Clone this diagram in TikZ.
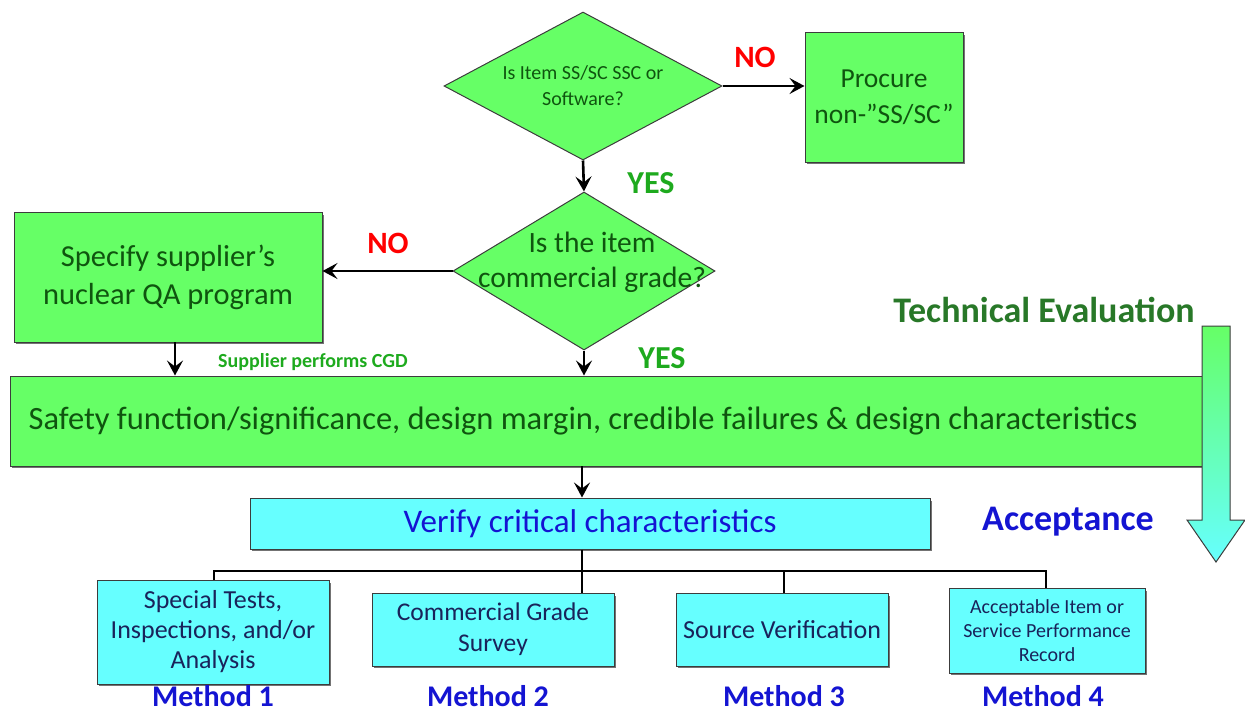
\documentclass[tikz,border=0pt]{standalone}
\usepackage{fontspec}
\setmainfont{Carlito}
\usetikzlibrary{shapes.geometric,arrows.meta}
\definecolor{gfill}{RGB}{102,255,102}
\definecolor{cfill}{RGB}{102,255,255}
\definecolor{gtext}{RGB}{15,85,15}
\definecolor{ylab}{RGB}{30,170,30}
\definecolor{tev}{RGB}{40,120,40}
\definecolor{btext}{RGB}{20,20,210}
\definecolor{ntext}{RGB}{25,35,90}
\definecolor{edge}{RGB}{60,60,60}
\tikzset{
  gbox/.style={draw=edge, line width=1pt, fill=gfill, text=gtext, align=center, inner sep=0pt},
  cbox/.style={draw=edge, line width=1pt, fill=cfill, text=ntext, align=center, inner sep=0pt},
  dmd/.style={diamond, draw=edge, line width=1pt, fill=gfill, text=gtext, align=center, inner sep=0pt, aspect=1.88},
  arr/.style={line width=2.6pt, -{Stealth[length=15pt,width=16pt,inset=6pt]}},
  tree/.style={line width=2.6pt},
  nolab/.style={text=red, font=\bfseries\fontsize{31}{33}\selectfont},
  yeslab/.style={text=ylab, font=\bfseries\fontsize{32}{34}\selectfont},
  meth/.style={text=btext, inner sep=1pt, font=\bfseries\fontsize{30}{32}\selectfont},
  shadow/.style={fill=black!55}
}
\begin{document}
\begin{tikzpicture}[x=1pt,y=-1pt]
\useasboundingbox (0,0) rectangle (1245,713);
% diamonds
\node[dmd, minimum width=278pt, minimum height=148pt, font=\fontsize{20}{26}\selectfont] (d1) at (583,86) {Is Item SS/SC SSC or\\Software?};
\node[dmd, minimum width=262pt, minimum height=158pt] (d2) at (584,271) {};
\node[text=gtext, align=center, font=\fontsize{29.5}{35}\selectfont] (d2t) at (592,262) {Is the item\\commercial grade?};
% procure box
\fill[shadow] (807,35) rectangle (965,164);
\node[gbox, minimum width=158pt, minimum height=130pt, font=\fontsize{27.5}{36}\selectfont] (proc) at (884,97) {Procure\\non-”SS/SC”};
% specify box
\fill[shadow] (16,215) rectangle (324,344);
\node[gbox, minimum width=308pt, minimum height=130pt, font=\fontsize{30.5}{38}\selectfont] (spec) at (168,277) {Specify supplier’s\\nuclear QA program};
% big bar
\fill[shadow] (12,379) rectangle (1204,468);
\node[gbox, minimum width=1192pt, minimum height=90pt, font=\fontsize{32.5}{34}\selectfont] (bar) at (606,421) {\hspace*{-46pt}Safety function/significance, design margin, credible failures \& design characteristics};
% block arrow
\shade[top color=gfill, bottom color=cfill, draw=edge, line width=1pt]
  (1202,326) -- (1230,326) -- (1230,520) -- (1245,520) -- (1216,562) -- (1187,520) -- (1202,520) -- cycle;
\node[text=tev, font=\bfseries\fontsize{36}{38}\selectfont] (tev) at (1044,310) {Technical Evaluation};
\node[text=btext, font=\bfseries\fontsize{36}{38}\selectfont] (acc) at (1068,522) {Acceptance};
% verify box
\fill[shadow] (252,501) rectangle (932,551);
\node[cbox, text=btext, minimum width=680pt, minimum height=51pt, font=\fontsize{33}{35}\selectfont] (ver) at (590,523.5) {Verify critical characteristics};
% method boxes
\fill[shadow] (99,583) rectangle (331,686);
\node[cbox, minimum width=232pt, minimum height=104pt, font=\fontsize{26}{30}\selectfont] (m1) at (213,632) {Special Tests,\\Inspections, and/or\\Analysis};
\fill[shadow] (374,596) rectangle (616,668);
\node[cbox, minimum width=242pt, minimum height=73pt, font=\fontsize{25.5}{31}\selectfont] (m2) at (493,629.5) {Commercial Grade\\Survey};
\fill[shadow] (678,596) rectangle (890,668);
\node[cbox, minimum width=212pt, minimum height=73pt, font=\fontsize{26}{28}\selectfont] (m3) at (782,629.5) {Source Verification};
\fill[shadow] (951,591) rectangle (1147,675);
\node[cbox, minimum width=196pt, minimum height=85pt, font=\fontsize{20}{24}\selectfont] (m4) at (1047,630.5) {Acceptable Item or\\Service Performance\\Record};
% method labels
\node[meth] (l1) at (213,696) {Method 1};
\node[meth] (l2) at (488,696) {Method 2};
\node[meth] (l3) at (784,696) {Method 3};
\node[meth] (l4) at (1043,696) {Method 4};
% connectors
\draw[arr] (d1.east) -- (d1.east -| proc.west);
\node[nolab] (no1) at (755,57) {NO};
\draw[arr] (d1.south) -- (d2.north);
\node[yeslab] (yes1) at (651,183) {YES};
\draw[arr] (d2.west) -- (d2.west -| spec.east);
\node[nolab] (no2) at (388,243) {NO};
\coordinate (sb) at (175,342);
\draw[arr] (sb) -- (sb |- bar.north);
\node[text=ylab, font=\bfseries\fontsize{20}{22}\selectfont] (cgd) at (313,362) {Supplier performs CGD};
\draw[arr] (d2.south) -- (d2.south |- bar.north);
\node[yeslab] (yes2) at (662,358) {YES};
\coordinate (bb) at (582,466);
\draw[arr] (bb) -- (bb |- ver.north);
% tree
\coordinate (j) at (582,571);
\draw[tree] (bb |- ver.south) -- (j);
\draw[tree] (214,580) -- (214,571) -- (1046,571) -- (1046,588);
\draw[tree] (j) -- (582,593);
\draw[tree] (784,571) -- (784,593);
\end{tikzpicture}
\end{document}
